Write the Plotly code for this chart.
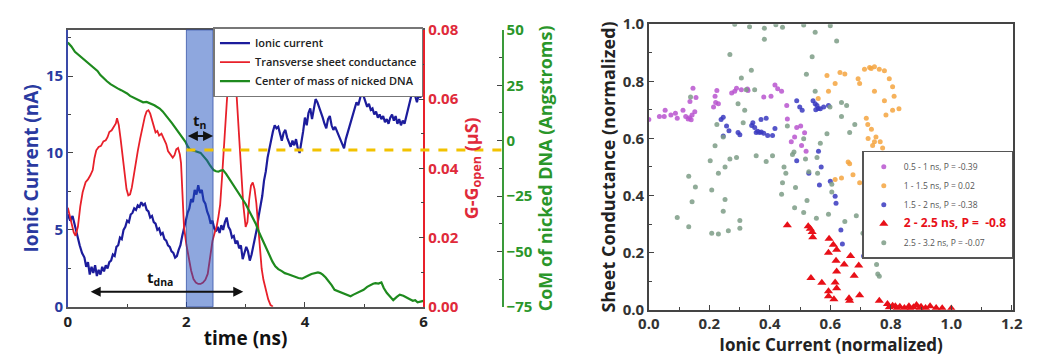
import plotly.graph_objects as go

# ---------------- Left panel data ----------------
t_ion = [0.00,0.04,0.08,0.12,0.16,0.20,0.24,0.28,0.31,0.34,0.37,0.40,0.43,0.46,0.49,0.52,0.55,0.58,0.61,0.64,
         0.67,0.70,0.73,0.76,0.79,0.82,0.85,0.88,0.91,0.94,0.97,1.00,1.03,1.06,1.09,1.12,1.15,1.18,1.21,1.24,
         1.27,1.30,1.33,1.36,1.39,1.42,1.45,1.48,1.51,1.54,1.57,1.60,1.63,1.66,1.69,1.72,1.75,1.78,1.81,1.84,
         1.87,1.90,1.93,1.96,1.99,2.02,2.05,2.08,2.11,2.14,2.17,2.20,2.23,2.26,2.29,2.32,2.35,2.38,2.41,2.44,
         2.47,2.50,2.53,2.56,2.59,2.62,2.65,2.68,2.71,2.74,2.77,2.80,2.83,2.86,2.89,2.92,2.95,2.98,3.01,3.04,
         3.07,3.10,3.13,3.16,3.19,3.22,3.25,3.28,3.31,3.34,3.37,3.40,3.43,3.46,3.49,3.52,3.55,3.58,3.61,3.64,
         3.67,3.70,3.73,3.76,3.79,3.82,3.85,3.88,3.91,3.94,3.97,4.00,4.03,4.06,4.09,4.12,4.15,4.18,4.21,4.24,
         4.27,4.30,4.33,4.36,4.39,4.42,4.45,4.48,4.51,4.54,4.57,4.60,4.63,4.66,4.69,4.72,4.75,4.78,4.81,4.84,
         4.87,4.90,4.93,4.96,4.99,5.02,5.05,5.08,5.11,5.14,5.17,5.20,5.23,5.26,5.29,5.32,5.35,5.38,5.41,5.44,
         5.47,5.50,5.53,5.56,5.59,5.62,5.65,5.68,5.71,5.74,5.77,5.80,5.83,5.86,5.89,5.92,5.95,5.98,6.00]
ionic = [6.0,5.6,5.9,5.2,4.6,4.0,3.5,3.2,2.6,2.9,2.1,2.6,2.2,2.7,2.0,2.4,2.1,2.6,2.3,2.7,
         2.5,2.9,3.0,3.4,3.3,3.9,4.0,4.5,4.4,5.0,5.2,5.6,5.5,6.0,6.1,6.4,6.3,6.6,6.5,6.8,
         6.6,6.7,6.3,6.2,5.8,5.9,5.5,5.4,5.0,5.1,4.7,4.8,4.4,4.3,4.0,3.9,3.6,3.5,3.2,3.3,
         3.7,4.0,4.6,5.1,5.7,6.1,6.4,7.0,6.8,7.6,7.3,7.9,7.4,7.6,6.9,6.7,6.2,5.9,5.4,5.6,
         5.1,4.9,5.2,4.8,5.3,5.0,5.5,5.8,5.2,5.0,4.5,4.6,4.1,4.3,3.8,4.0,3.1,3.6,3.9,3.6,
         3.0,3.4,4.0,4.4,5.1,5.9,6.6,7.2,8.2,8.8,9.7,10.3,11.0,11.4,11.8,11.6,11.7,11.2,10.8,11.3,
         11.5,11.0,10.7,10.4,10.8,10.5,10.9,10.3,10.0,10.6,11.4,12.3,11.8,12.6,12.9,12.2,12.8,13.5,13.3,13.0,
         12.7,12.3,11.9,11.6,12.2,12.4,11.8,11.5,11.7,11.4,11.2,10.9,10.5,10.3,10.9,11.3,11.6,12.1,12.5,12.9,
         13.3,13.1,13.6,14.0,13.7,13.4,13.0,13.2,12.8,12.9,12.5,12.7,12.3,12.5,12.2,12.4,12.0,12.2,11.9,12.3,
         12.5,12.1,12.4,11.9,12.2,11.8,12.1,11.9,12.4,12.7,13.3,13.8,14.1,13.7,13.3,13.8,13.6,14.1,14.0]

t_g = [0.00,0.05,0.10,0.13,0.17,0.21,0.25,0.30,0.34,0.38,0.42,0.45,0.48,0.52,0.56,0.60,0.64,0.67,0.70,0.74,
       0.78,0.81,0.83,0.86,0.89,0.92,0.95,0.99,1.02,1.05,1.08,1.11,1.14,1.18,1.22,1.26,1.30,1.33,1.36,1.39,
       1.42,1.45,1.48,1.51,1.54,1.58,1.62,1.66,1.69,1.73,1.77,1.80,1.83,1.86,1.89,1.91,1.93,1.96,2.00,2.04,
       2.08,2.12,2.16,2.20,2.24,2.28,2.32,2.36,2.40,2.44,2.48,2.51,2.54,2.57,2.60,2.62,2.65,2.68,2.71,2.74,
       2.77,2.80,2.83,2.86,2.90,2.93,2.96,3.00,3.03,3.06,3.09,3.12,3.15,3.18,3.21,3.24,3.27,3.30,3.34,3.38,
       3.42,3.46]
g_sheet = [0.0286,0.0250,0.0215,0.0205,0.0231,0.0290,0.0331,0.0360,0.0368,0.0380,0.0395,0.0430,0.0452,0.0462,0.0465,0.0478,0.0481,0.0490,0.0505,0.0510,
           0.0522,0.0530,0.0545,0.0525,0.0486,0.0440,0.0395,0.0340,0.0322,0.0325,0.0345,0.0380,0.0415,0.0450,0.0486,0.0520,0.0550,0.0565,0.0568,0.0558,
           0.0540,0.0515,0.0504,0.0508,0.0495,0.0500,0.0486,0.0470,0.0450,0.0442,0.0431,0.0438,0.0455,0.0459,0.0440,0.0415,0.0331,0.0231,0.0180,0.0140,
           0.0105,0.0080,0.0070,0.0066,0.0066,0.0070,0.0078,0.0095,0.0136,0.0190,0.0215,0.0231,0.0260,0.0295,0.0370,0.0431,0.0520,0.0586,0.0660,0.0740,
           0.0780,0.0740,0.0660,0.0570,0.0450,0.0360,0.0295,0.0231,0.0245,0.0310,0.0350,0.0359,0.0340,0.0300,0.0240,0.0158,0.0110,0.0078,0.0045,0.0022,
           0.0005,0.0000]

t_com = [0.00,0.06,0.12,0.18,0.24,0.28,0.34,0.40,0.45,0.50,0.55,0.61,0.66,0.72,0.78,0.84,0.90,0.94,1.00,1.05,
         1.11,1.17,1.22,1.27,1.33,1.38,1.41,1.46,1.50,1.55,1.60,1.66,1.71,1.76,1.81,1.85,1.90,1.95,1.99,2.02,
         2.06,2.10,2.13,2.18,2.24,2.29,2.35,2.40,2.46,2.50,2.54,2.58,2.62,2.67,2.73,2.78,2.84,2.90,2.95,3.00,
         3.06,3.11,3.17,3.22,3.28,3.33,3.39,3.45,3.50,3.55,3.61,3.66,3.72,3.78,3.83,3.89,3.95,4.00,4.05,4.11,
         4.16,4.22,4.26,4.30,4.35,4.39,4.45,4.50,4.56,4.63,4.70,4.77,4.82,4.88,4.94,4.99,5.05,5.10,5.15,5.19,
         5.24,5.29,5.33,5.38,5.44,5.49,5.55,5.60,5.66,5.71,5.77,5.82,5.86,5.90,5.95,6.00]
com = [44.3,42.5,40.1,38.8,37.2,36.5,35.0,33.8,32.9,31.5,29.6,27.9,26.8,25.5,24.4,23.6,22.8,22.3,21.3,20.2,
       19.4,18.6,17.9,17.3,17.5,17.0,16.8,16.0,15.3,14.5,13.2,11.4,9.5,7.8,6.0,4.5,2.8,0.8,-0.8,-2.5,
       -4.0,-4.3,-4.7,-5.0,-5.5,-7.0,-9.0,-11.2,-13.3,-13.8,-14.0,-13.5,-13.3,-15.0,-17.5,-19.5,-21.8,-24.0,-26.1,-28.6,
       -31.8,-34.5,-37.5,-41.0,-44.6,-48.0,-51.7,-54.5,-56.7,-58.0,-58.9,-59.8,-60.3,-61.0,-61.6,-62.0,-62.3,-61.8,-61.0,-60.2,
       -59.8,-59.5,-59.8,-60.5,-61.8,-63.0,-65.2,-67.3,-68.0,-68.7,-69.5,-70.2,-69.5,-68.7,-68.0,-67.3,-66.0,-65.2,-64.6,-64.3,
       -64.5,-64.0,-66.5,-68.7,-70.5,-72.0,-70.5,-69.5,-70.0,-70.9,-71.6,-72.3,-72.0,-73.0,-72.8,-72.3]

band_t = [2.0, 2.45]        # t_n window
dash_level = 10.2           # yellow dashed reference (nA)
tdna_span = [0.36, 2.96]

# ---------------- Right panel data ----------------
s1_x = [0.000,0.035,0.051,0.054,0.073,0.094,0.113,0.122,0.130,0.143,0.152,0.136,0.156,0.146,0.214,0.221,0.219,0.225,0.230,0.274,
        0.284,0.290,0.306,0.326,0.328,0.380,0.404,0.417,0.426,0.439,0.456,0.458,0.489,0.502,0.471,0.482,0.505,0.520,0.515,0.135,0.140,0.088]
s1_y = [0.666,0.677,0.677,0.699,0.682,0.671,0.699,0.677,0.668,0.682,0.693,0.729,0.743,0.776,0.710,0.726,0.748,0.768,0.721,0.759,
        0.765,0.776,0.770,0.773,0.768,0.745,0.748,0.787,0.774,0.765,0.715,0.668,0.638,0.643,0.588,0.605,0.575,0.555,0.620,0.672,0.665,0.688]

s2_x = [0.713,0.730,0.746,0.762,0.779,0.795,0.806,0.811,0.827,0.806,0.784,0.779,0.746,0.697,0.719,0.724,0.736,0.751,0.765,0.773,
        0.746,0.594,0.589,0.616,0.632,0.659,0.616,0.637,0.675,0.697,0.719,0.730,0.724,0.664,0.648,0.692,0.725,0.740,0.560,0.735]
s2_y = [0.842,0.848,0.851,0.842,0.837,0.809,0.781,0.748,0.704,0.699,0.682,0.732,0.765,0.792,0.671,0.649,0.632,0.605,0.588,0.566,
        0.588,0.765,0.820,0.792,0.831,0.517,0.456,0.461,0.473,0.445,0.441,0.439,0.506,0.511,0.826,0.809,0.600,0.575,0.740,0.845]

s3_x = [0.239,0.246,0.257,0.265,0.246,0.295,0.301,0.344,0.350,0.355,0.366,0.371,0.388,0.393,0.409,0.417,0.489,0.499,0.507,0.543,
        0.556,0.567,0.578,0.489,0.561,0.550,0.594,0.616,0.619,0.635,0.640,0.710,0.564,0.529,0.600,0.570,0.360,0.372,0.380,0.560,0.552,0.340]
s3_y = [0.666,0.674,0.643,0.627,0.608,0.621,0.613,0.655,0.638,0.621,0.621,0.666,0.671,0.610,0.610,0.635,0.732,0.710,0.699,0.732,
        0.715,0.704,0.710,0.522,0.555,0.721,0.715,0.397,0.373,0.279,0.230,0.188,0.437,0.478,0.450,0.500,0.625,0.622,0.618,0.705,0.700,0.645]

s4_x = [0.458,0.527,0.534,0.540,0.542,0.596,0.610,0.621,0.594,0.667,0.619,0.646,0.694,0.621,0.679,0.536,0.572,0.616,0.621,0.594,
        0.594,0.612,0.662,0.664,0.697,0.762,0.789,0.806,0.795,0.815,0.830,0.845,0.860,0.875,0.885,0.900,0.915,0.930,0.950,0.970,
        1.000,0.820,0.865,0.895]
s4_y = [0.296,0.292,0.283,0.272,0.254,0.248,0.227,0.210,0.199,0.188,0.171,0.158,0.155,0.134,0.119,0.111,0.094,0.095,0.075,0.064,
        0.047,0.036,0.040,0.031,0.050,0.031,0.020,0.014,0.008,0.012,0.010,0.006,0.012,0.008,0.016,0.010,0.006,0.012,0.006,0.005,
        0.004,0.004,0.003,0.004]

s5_x = [0.284,0.333,0.382,0.442,0.382,0.268,0.339,0.306,0.138,0.322,0.350,0.295,0.317,0.225,0.312,0.219,0.246,0.203,0.230,0.252,
        0.268,0.290,0.355,0.388,0.409,0.132,0.154,0.143,0.094,0.132,0.208,0.252,0.246,0.208,0.230,0.263,0.301,0.301,0.512,0.550,
        0.540,0.521,0.458,0.512,0.567,0.447,0.453,0.475,0.480,0.518,0.529,0.558,0.621,0.550,0.599,0.637,0.681,0.589,0.556,0.637,
        0.654,0.439,0.442,0.485,0.482,0.512,0.523,0.554,0.594,0.648,0.719,0.738,0.779,0.753,0.762,0.605,0.605,0.664,0.686,0.708,
        0.713,0.757,0.773,0.420,0.600]
s5_y = [1.000,0.991,0.986,0.989,0.947,0.894,0.839,0.812,0.745,0.770,0.770,0.721,0.699,0.649,0.655,0.574,0.605,0.522,0.478,0.500,
        0.528,0.533,0.539,0.519,0.539,0.467,0.430,0.378,0.323,0.290,0.419,0.386,0.345,0.268,0.265,0.276,0.312,0.285,0.997,0.972,
        0.886,0.825,0.643,0.599,0.583,0.500,0.478,0.544,0.552,0.528,0.483,0.478,0.941,0.765,0.710,0.677,0.649,0.616,0.533,0.726,
        0.715,0.404,0.445,0.428,0.357,0.340,0.382,0.320,0.334,0.309,0.384,0.331,0.219,0.158,0.117,0.412,0.439,0.621,0.329,0.268,
        0.191,0.125,0.191,0.998,0.995]

names_right = ["0.5 - 1 ns, P = -0.39", "1 - 1.5 ns, P = 0.02", "1.5 - 2 ns, P = -0.38",
               "2 - 2.5 ns, P =  -0.8", "2.5 - 3.2 ns, P = -0.07"]

# ---------------- Styling ----------------
W, H = 1037, 364
FONT = "Open Sans"
BLUE, RED, GREEN = "#1c1c9c", "#e8202a", "#1e8a1e"
BLUE_T, RED_T, GREEN_T = "#2a3aa0", "#e02a3a", "#2a962a"

xl = [58 / W, 421 / W]
yl = [1 - 313 / H, 1 - 20 / H]
xr = [651 / W, 1023 / W]
yr = [1 - 316 / H, 1 - 14 / H]
green_pos = 502 / W

def bold(s):
    return "<b>" + s + "</b>"

fig = go.Figure()

fig.add_trace(go.Scatter(x=t_ion, y=ionic, mode="lines", name="Ionic current",
                         line=dict(color=BLUE, width=2.2), xaxis="x", yaxis="y", legend="legend"))
fig.add_trace(go.Scatter(x=t_g, y=g_sheet, mode="lines", name="Transverse sheet conductance",
                         line=dict(color=RED, width=1.8), xaxis="x", yaxis="y2", legend="legend"))
fig.add_trace(go.Scatter(x=t_com, y=com, mode="lines", name="Center of mass of nicked DNA",
                         line=dict(color=GREEN, width=2.2), xaxis="x", yaxis="y3", legend="legend"))

scat = [(s1_x, s1_y, "#b955cf", "circle", 5),
        (s2_x, s2_y, "#f4a440", "circle", 5),
        (s3_x, s3_y, "#3838c0", "circle", 5),
        (s4_x, s4_y, "#e81018", "triangle-up", 8),
        (s5_x, s5_y, "#7d9c86", "circle", 5)]
for i, (sx, sy, c, sym, sz) in enumerate(scat):
    nm = names_right[i]
    if i == 3:
        nm = '<span style="font-size:12px;color:#e81018"><b>' + nm + '</b></span>'
    fig.add_trace(go.Scatter(x=sx, y=sy, mode="markers", name=nm,
                             marker=dict(color=c, symbol=sym, size=sz, opacity=0.85 if i != 3 else 1),
                             xaxis="x2", yaxis="y4", legend="legend2"))

tick_bold = lambda col, size=15: dict(family=FONT, size=size, color=col, weight="bold")

fig.update_layout(
    width=W, height=H, margin=dict(l=0, r=0, t=0, b=0),
    paper_bgcolor="white", plot_bgcolor="white",
    font=dict(family=FONT),
    xaxis=dict(domain=xl, range=[0, 6], anchor="y", tickvals=[0, 2, 4, 6], ticks="inside", ticklen=5,
               minor=dict(dtick=1, ticks="inside", ticklen=3), showline=True, linecolor="#555", linewidth=1.5,
               mirror=True, showgrid=False, zeroline=False, tickfont=tick_bold("#222"),
               title=dict(text=bold("time (ns)"), font=dict(family=FONT, size=19, color="#111"), standoff=2)),
    yaxis=dict(domain=yl, range=[0, 18], anchor="x", tickvals=[0, 5, 10, 15], ticks="inside", ticklen=5,
               minor=dict(dtick=2.5, ticks="inside", ticklen=3), showline=True, linecolor="#3a4aa8", linewidth=1.5,
               showgrid=False, zeroline=False, tickfont=tick_bold(BLUE_T),
               title=dict(text=bold("Ionic Current (nA)"), font=dict(family=FONT, size=19, color=BLUE_T), standoff=2)),
    yaxis2=dict(overlaying="y", side="right", anchor="x", range=[0, 0.08], dtick=0.02, tickformat=".2f",
                ticks="inside", ticklen=5, minor=dict(dtick=0.01, ticks="inside", ticklen=3),
                showline=True, linecolor=RED, linewidth=1.5, showgrid=False, zeroline=False,
                tickfont=tick_bold(RED_T),
                title=dict(text=bold("G-G<sub>open</sub> (µS)"), font=dict(family=FONT, size=18, color=RED_T), standoff=0)),
    yaxis3=dict(overlaying="y", side="right", anchor="free", position=green_pos, range=[-75, 50], dtick=25,
                ticks="inside", ticklen=5, minor=dict(dtick=12.5, ticks="inside", ticklen=3),
                showline=True, linecolor="#3a9a3a", linewidth=1.5, showgrid=False, zeroline=False,
                tickfont=tick_bold(GREEN_T),
                title=dict(text=bold("CoM of nicked DNA (Angstroms)"), font=dict(family=FONT, size=18, color=GREEN_T), standoff=2)),
    xaxis2=dict(domain=xr, range=[0, 1.205], anchor="y4", dtick=0.2, tickformat=".1f", ticks="inside", ticklen=5,
                minor=dict(dtick=0.1, ticks="inside", ticklen=3), showline=True, linecolor="#444", linewidth=1.5,
                mirror=True, showgrid=False, zeroline=False, tickfont=tick_bold("#333"),
                title=dict(text=bold("Ionic Current (normalized)"), font=dict(family=FONT, size=17, color="#222"), standoff=2)),
    yaxis4=dict(domain=yr, range=[0, 1.0], anchor="x2", dtick=0.2, tickformat=".1f", ticks="inside", ticklen=5,
                minor=dict(dtick=0.1, ticks="inside", ticklen=3), showline=True, linecolor="#444", linewidth=1.5,
                mirror=True, showgrid=False, zeroline=False, tickfont=tick_bold("#333"),
                title=dict(text=bold("Sheet Conductance (normalized)"), font=dict(family=FONT, size=18, color="#222"), standoff=2)),
    legend=dict(x=xl[1], y=1 - 17 / H, xanchor="right", yanchor="top", bgcolor="white", bordercolor="#777",
                borderwidth=1.5, font=dict(family=FONT, size=11, color="#222", weight=600),
                tracegroupgap=0, itemwidth=30),
    legend2=dict(x=xr[1], y=1 - 148 / H, xanchor="right", yanchor="top", bgcolor="white", bordercolor="#555",
                 borderwidth=1.5, font=dict(family=FONT, size=8.5, color="#555"), itemwidth=30),
)

# shaded t_n window and yellow reference line (positions derived from data + axis ranges)
def ypaper(v, rng=(0, 18), dom=yl):
    return dom[0] + (v - rng[0]) / (rng[1] - rng[0]) * (dom[1] - dom[0])

def xpaper(v, rng=(0, 6), dom=xl):
    return dom[0] + (v - rng[0]) / (rng[1] - rng[0]) * (dom[1] - dom[0])

fig.add_shape(type="rect", xref="x", yref="paper", x0=band_t[0], x1=band_t[1], y0=yl[0], y1=yl[1],
              fillcolor="rgba(30,80,190,0.5)", line=dict(color="rgba(40,70,160,0.7)", width=1), layer="above")
fig.add_shape(type="line", xref="paper", yref="paper", x0=xpaper(band_t[0]), x1=green_pos + 6 / W,
              y0=ypaper(dash_level), y1=ypaper(dash_level),
              line=dict(color="#f2c200", width=3, dash="dash"), layer="above")

# arrows
fig.add_annotation(x=band_t[1], y=11.1, ax=band_t[0], ay=11.1, xref="x", yref="y", axref="x", ayref="y",
                   text="", showarrow=True, arrowside="end+start", arrowhead=2, arrowsize=1, arrowwidth=2,
                   arrowcolor="#111")
fig.add_annotation(x=sum(band_t) / 2, y=12.1, xref="x", yref="y", text=bold("t<sub>n</sub>"),
                   showarrow=False, font=dict(family=FONT, size=15, color="#111"))
fig.add_annotation(x=tdna_span[1], y=0.98, ax=tdna_span[0], ay=0.98, xref="x", yref="y", axref="x", ayref="y",
                   text="", showarrow=True, arrowside="end+start", arrowhead=2, arrowsize=1, arrowwidth=2,
                   arrowcolor="#111")
fig.add_annotation(x=1.55, y=1.9, xref="x", yref="y", text=bold("t<sub>dna</sub>"),
                   showarrow=False, font=dict(family=FONT, size=15, color="#111"))

fig.write_html("out.html")
